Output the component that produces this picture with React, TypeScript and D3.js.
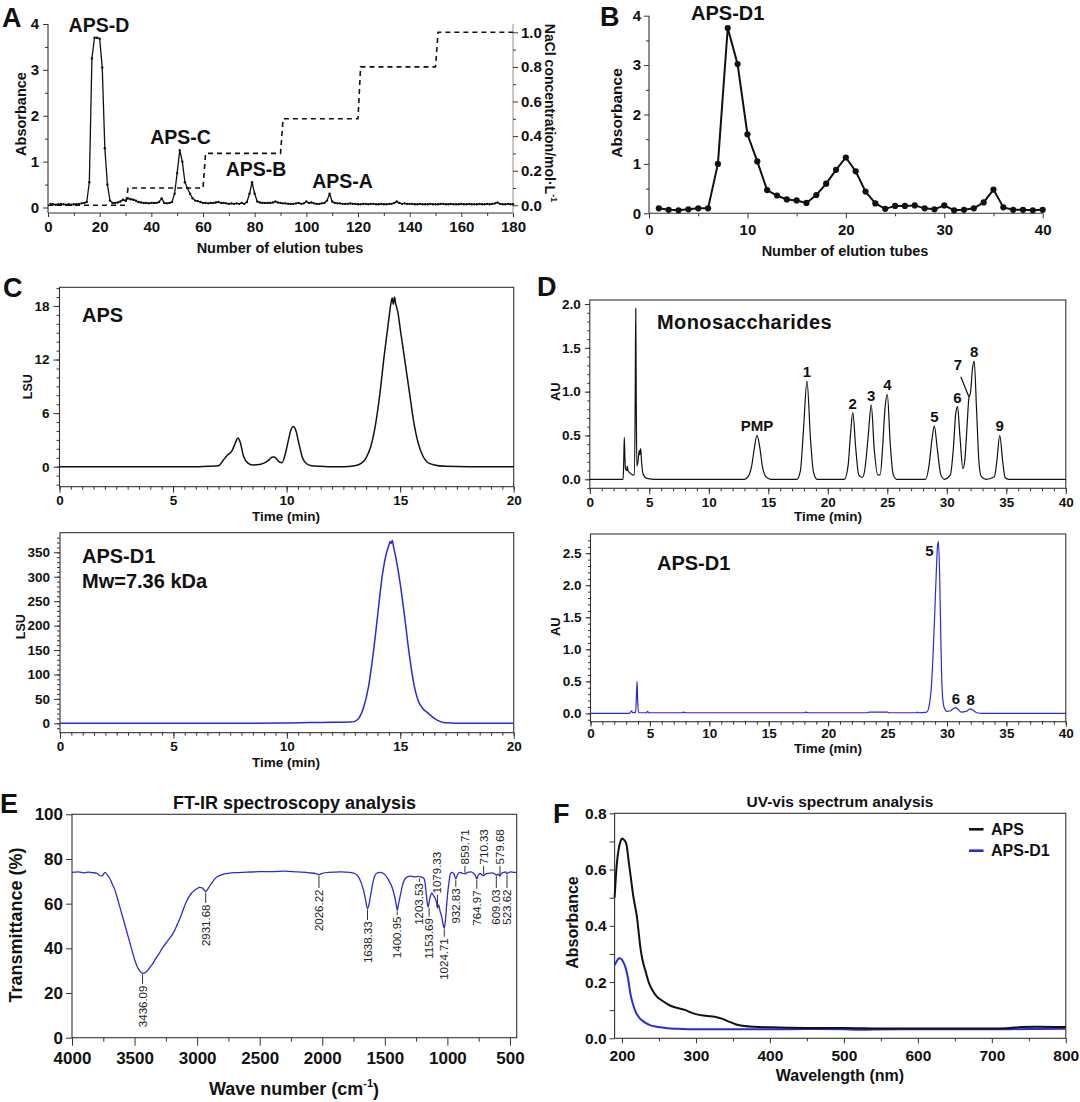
import React, { useEffect, useRef } from "react";
import * as d3 from "d3";

const FONT = "'Liberation Sans', Arial, Helvetica, sans-serif";
const BLUE = "#2b2bd6";
const INK = "#111111";
const FRAME = "#333333";

// ---------- A: anion-exchange elution, absorbance of tubes 1..180 ----------
const elutionAbsorbance = [
  0.08, 0.07, 0.06, 0.07, 0.08, 0.07, 0.06, 0.07, 0.06, 0.07,
  0.07, 0.08, 0.09, 0.1, 0.12, 0.55, 3.25, 3.7, 3.7, 3.68,
  3.05, 1.29, 0.5, 0.15, 0.1, 0.1, 0.11, 0.13, 0.17, 0.15,
  0.2, 0.18, 0.17, 0.15, 0.12, 0.11, 0.1, 0.1, 0.09, 0.1,
  0.1, 0.1, 0.12, 0.2, 0.1, 0.09, 0.1, 0.12, 0.3, 0.75,
  1.25, 1.0, 0.55, 0.42, 0.3, 0.2, 0.15, 0.14, 0.12, 0.1,
  0.1, 0.09, 0.1, 0.1, 0.11, 0.12, 0.1, 0.1, 0.09, 0.08,
  0.09, 0.08, 0.09, 0.08, 0.1, 0.08, 0.12, 0.3, 0.55, 0.3,
  0.13, 0.11, 0.1, 0.1, 0.1, 0.1, 0.11, 0.13, 0.11, 0.1,
  0.09, 0.09, 0.08, 0.08, 0.08, 0.09, 0.1, 0.08, 0.09, 0.13,
  0.1, 0.11, 0.09, 0.08, 0.08, 0.09, 0.1, 0.15, 0.3, 0.13,
  0.1, 0.09, 0.09, 0.08, 0.08, 0.08, 0.09, 0.08, 0.08, 0.07,
  0.07, 0.08, 0.08, 0.07, 0.08, 0.08, 0.07, 0.07, 0.08, 0.07,
  0.07, 0.08, 0.08, 0.1, 0.13, 0.1, 0.08, 0.09, 0.08, 0.08,
  0.08, 0.07, 0.07, 0.08, 0.07, 0.07, 0.07, 0.08, 0.07, 0.07,
  0.07, 0.08, 0.08, 0.07, 0.07, 0.08, 0.07, 0.07, 0.07, 0.08,
  0.07, 0.07, 0.08, 0.07, 0.07, 0.07, 0.08, 0.07, 0.07, 0.08,
  0.07, 0.08, 0.09, 0.11, 0.08, 0.07, 0.07, 0.08, 0.07, 0.07,
];
// NaCl step gradient
const gradientTubes = [0, 30, 31, 60, 61, 90, 91, 120, 121, 150, 151, 180];
const gradientNaCl = [0, 0, 0.1, 0.1, 0.3, 0.3, 0.5, 0.5, 0.8, 0.8, 1.0, 1.0];
const fractionNames = ["APS-D", "APS-C", "APS-B", "APS-A"];
const fractionPeakTubes = [19, 51, 79, 109];
const fractionLabelTubes = [19.7, 51.3, 80.5, 114];

// ---------- B: gel filtration of APS-D, tubes 1..40 ----------
const gelAbsorbance = [
  0.1, 0.07, 0.06, 0.08, 0.1, 0.1, 1.0, 3.75, 3.02, 1.6,
  1.05, 0.47, 0.36, 0.28, 0.26, 0.21, 0.37, 0.6, 0.88, 1.13,
  0.85, 0.44, 0.2, 0.09, 0.15, 0.15, 0.16, 0.1, 0.08, 0.16,
  0.06, 0.07, 0.1, 0.22, 0.48, 0.12, 0.07, 0.07, 0.06, 0.07,
];
const gelPeakName = "APS-D1";
const gelPeakTube = 8;

// ---------- C: HPGPC light-scattering traces ----------
const gpcTimeAPS = [0, 1, 2, 3, 4, 5, 6, 6.5, 7.0, 7.2, 7.4, 7.6, 7.75, 7.85, 7.95, 8.1, 8.3, 8.5, 8.8, 9.0, 9.2, 9.35, 9.45, 9.55, 9.7, 9.8, 9.95, 10.1, 10.2, 10.3, 10.4, 10.55, 10.7, 10.9, 11.1, 11.5, 12, 12.5, 13, 13.3, 13.5, 13.7, 13.9, 14.1, 14.3, 14.5, 14.6, 14.65, 14.7, 14.75, 14.8, 14.9, 15.0, 15.2, 15.4, 15.6, 15.8, 16.0, 16.2, 16.5, 17, 18, 19, 20];
const gpcLsuAPS = [0, 0, 0, 0, 0, 0, 0, 0.05, 0.1, 0.7, 1.3, 1.8, 2.7, 3.2, 2.8, 1.2, 0.4, 0.2, 0.25, 0.4, 0.7, 1.05, 1.1, 0.9, 0.5, 0.45, 1.5, 3.2, 4.2, 4.5, 4.1, 2.5, 1.0, 0.3, 0.1, 0.05, 0, 0, 0.1, 0.4, 1.0, 2.2, 4.5, 8, 12.5, 16.5, 18.4, 18.9, 18.2, 19.0, 18.3, 17.3, 15.5, 12, 8.5, 5, 2.6, 1.2, 0.5, 0.2, 0.05, 0, 0, 0];
const gpcTimeD1 = [0, 2, 4, 6, 8, 10, 11, 12, 12.8, 13.0, 13.2, 13.4, 13.6, 13.8, 14.0, 14.2, 14.4, 14.5, 14.55, 14.6, 14.65, 14.7, 14.8, 15.0, 15.2, 15.4, 15.6, 15.8, 16.0, 16.2, 16.5, 16.8, 17, 17.5, 18, 19, 20];
const gpcLsuD1 = [0, 0, 0, 0, 0, 0.5, 1.5, 2, 2.5, 4, 12, 35, 75, 140, 220, 300, 350, 365, 372, 368, 374, 362, 340, 285, 215, 140, 80, 45, 30, 22, 10, 3, 1, 0, 0, 0, 0];

// ---------- D: PMP-HPLC of monosaccharide standards and APS-D1 ----------
const stdTime = [0, 2.8, 2.85, 2.9, 2.95, 3.0, 3.1, 3.15, 3.2, 3.4, 3.6, 3.75, 3.82, 3.86, 3.9, 3.95, 4.05, 4.15, 4.2, 4.28, 4.35, 4.5, 4.8, 5.5, 13.0, 13.3, 13.6, 13.8, 14.05, 14.3, 14.5, 14.8, 15.2, 17.4, 17.7, 17.95, 18.25, 18.55, 18.8, 19.1, 21.4, 21.7, 21.9, 22.1, 22.35, 22.6, 22.9, 23.1, 23.4, 23.65, 23.9, 24.2, 24.4, 24.6, 24.8, 25.0, 25.25, 25.5, 25.8, 28.2, 28.5, 28.75, 28.95, 29.2, 29.5, 29.8, 30.3, 30.55, 30.75, 30.9, 31.1, 31.35, 31.5, 31.7, 31.85, 32.0, 32.15, 32.3, 32.5, 32.7, 32.9, 33.3, 34.0, 34.2, 34.45, 34.7, 34.9, 35.2, 40];
const stdAU = [0, 0, 0.2, 0.48, 0.25, 0.12, 0.1, 0.15, 0.1, 0.07, 0.05, 0.05, 1.0, 1.95, 1.0, 0.15, 0.2, 0.33, 0.28, 0.35, 0.2, 0.05, 0.01, 0, 0, 0.03, 0.15, 0.33, 0.5, 0.35, 0.15, 0.03, 0, 0, 0.1, 0.55, 1.12, 0.45, 0.08, 0, 0, 0.15, 0.5, 0.76, 0.35, 0.05, 0.02, 0.1, 0.5, 0.85, 0.35, 0.05, 0.05, 0.35, 0.8, 0.97, 0.4, 0.05, 0, 0, 0.15, 0.45, 0.61, 0.35, 0.05, 0, 0.05, 0.35, 0.75, 0.83, 0.5, 0.12, 0.2, 0.6, 0.92, 1.0, 1.25, 1.35, 0.8, 0.2, 0.03, 0, 0.03, 0.2, 0.5, 0.2, 0.02, 0, 0];
const stdPeakNames = ["PMP", "1", "2", "3", "4", "5", "6", "8", "9"];
const stdPeakTimes = [14.05, 18.25, 22.1, 23.65, 25.0, 28.95, 30.9, 32.3, 34.45];
const stdPeakAU = [0.5, 1.12, 0.76, 0.85, 0.97, 0.61, 0.83, 1.35, 0.5];
const shoulderName = "7";
const shoulderTime = 31.85;
const shoulderAU = 0.92;

const d1Time = [0, 3.3, 3.45, 3.55, 3.8, 3.87, 3.92, 3.97, 4.05, 4.7, 4.8, 4.9, 7.7, 7.8, 8.0, 18.0, 18.1, 18.3, 23.3, 23.5, 25, 25.1, 27.4, 27.5, 27.6, 28.3, 28.5, 28.7, 28.85, 29.0, 29.1, 29.2, 29.28, 29.38, 29.5, 29.6, 29.75, 30.0, 30.3, 30.5, 30.75, 30.95, 31.2, 31.6, 31.85, 32.0, 32.2, 32.5, 33, 40];
const d1AU = [0, 0, 0.04, 0.01, 0.02, 0.3, 0.5, 0.2, 0.01, 0.01, 0.03, 0.01, 0.01, 0.02, 0.01, 0.01, 0.02, 0.01, 0.01, 0.02, 0.02, 0.01, 0.01, 0.02, 0.01, 0.02, 0.12, 0.45, 1.0, 1.7, 2.2, 2.6, 2.68, 2.2, 1.0, 0.35, 0.1, 0.03, 0.04, 0.07, 0.09, 0.06, 0.02, 0.03, 0.06, 0.07, 0.05, 0.01, 0, 0];
const d1PeakNames = ["5", "6", "8"];
const d1PeakTimes = [29.28, 30.75, 32.0];
const d1PeakAU = [2.68, 0.09, 0.07];

// ---------- E: FT-IR spectrum of APS-D1 ----------
const irWavenumber = [4000, 3950, 3900, 3870, 3840, 3800, 3780, 3760, 3745, 3735, 3720, 3700, 3680, 3660, 3640, 3620, 3600, 3580, 3560, 3540, 3520, 3500, 3480, 3460, 3436.09, 3410, 3390, 3370, 3350, 3330, 3300, 3280, 3260, 3240, 3220, 3200, 3180, 3160, 3140, 3120, 3100, 3080, 3060, 3040, 3020, 3000, 2980, 2960, 2945, 2931.68, 2915, 2900, 2880, 2860, 2840, 2800, 2750, 2700, 2600, 2500, 2400, 2300, 2200, 2100, 2050, 2026.22, 2000, 1950, 1850, 1780, 1740, 1710, 1690, 1670, 1655, 1638.33, 1625, 1610, 1595, 1580, 1560, 1540, 1520, 1500, 1480, 1460, 1440, 1425, 1410, 1400.95, 1390, 1375, 1360, 1340, 1320, 1290, 1260, 1230, 1210, 1203.53, 1190, 1180, 1170, 1160, 1153.69, 1145, 1135, 1125, 1110, 1095, 1085, 1079.33, 1070, 1060, 1045, 1035, 1024.71, 1015, 1005, 995, 985, 975, 960, 945, 932.83, 920, 900, 880, 859.71, 840, 810, 790, 775, 764.97, 755, 740, 720, 710.33, 695, 670, 640, 620, 609.03, 595, 585, 579.68, 570, 550, 535, 523.62, 510, 490, 470, 446];
const irTransmittance = [74, 74.2, 73.8, 74.1, 73.9, 73.6, 72.6, 72.4, 73.5, 74, 73, 71.5, 69, 66.5, 63, 59, 55, 51, 47, 43, 39, 35, 32, 30, 28.8, 29.3, 30.5, 32, 33.5, 35.5, 38, 40, 41.5, 43, 44.5, 46, 48, 50.5, 53, 56, 59, 61.5, 63.5, 65, 66, 66.8, 67.3, 67.1, 66.2, 65.5, 66.5, 67.8, 69.5, 71, 72, 73, 73.6, 73.9, 74.1, 74.3, 74.3, 74.6, 74.2, 73.8, 73.4, 73, 73.6, 74, 74.2, 74, 73.5, 72, 69.5, 66, 62, 57.8, 60, 65, 69.5, 72.5, 73.8, 74, 73.8, 73, 71.5, 69.5, 67, 64, 60, 57, 60, 64, 68, 71, 72, 72.3, 72, 72.2, 72, 71.8, 71.5, 70, 65, 60, 58.5, 61, 63.5, 64.8, 63.5, 62, 60, 58, 59.5, 57, 54, 51, 49, 53, 60, 66, 70.5, 73.5, 74, 73, 71, 72.8, 74, 73.6, 73.3, 74, 74.2, 73.5, 72.5, 71, 72.5, 73.5, 72.8, 72.5, 73.2, 73.6, 73.8, 73.3, 72.8, 73.2, 72.6, 72.3, 73.5, 74, 74.2, 73.5, 74, 74.2, 74, 74];
const irBands = [3436.09, 2931.68, 2026.22, 1638.33, 1400.95, 1203.53, 1153.69, 1079.33, 1024.71, 932.83, 859.71, 764.97, 710.33, 609.03, 579.68, 523.62];
// which side of the trace each band label sits on, the transmittance where the label begins,
// and a small sideways nudge (px) for crowded labels
const irBandSide = ["below", "below", "below", "below", "below", "below", "below", "above", "below", "below", "above", "below", "above", "below", "above", "below"];
const irBandLabelAt = [24.0, 60.3, 67.0, 52.7, 54.9, 69.8, 54.2, 63.9, 45.2, 67.5, 76.9, 66.6, 76.9, 67.0, 76.9, 67.0];
const irBandNudge = [0, 0, 0, 0, 0, -2.5, 1, 0, 0, 0, 0, 0, 0, 0, 0, 0];

// ---------- F: UV-vis spectra ----------
const uvWavelengthAPS = [190, 193, 196, 198, 200, 203, 206, 209, 212, 215, 218, 220, 222, 225, 228, 232, 236, 241, 246, 253, 260, 267, 275, 286, 293, 300, 310, 320, 328, 335, 342, 350, 356, 365, 379, 400, 450, 500, 550, 600, 650, 700, 720, 740, 760, 800];
const uvAbsAPS = [0.5, 0.62, 0.68, 0.7, 0.71, 0.705, 0.69, 0.63, 0.57, 0.51, 0.465, 0.435, 0.39, 0.32, 0.275, 0.237, 0.2, 0.172, 0.152, 0.136, 0.124, 0.114, 0.108, 0.1, 0.092, 0.086, 0.081, 0.078, 0.075, 0.07, 0.062, 0.054, 0.048, 0.044, 0.041, 0.039, 0.037, 0.037, 0.035, 0.035, 0.035, 0.035, 0.036, 0.04, 0.041, 0.04];
const uvWavelengthD1 = [190, 193, 196, 199, 202, 205, 208, 212, 215, 218, 221, 224, 228, 233, 238, 245, 252, 261, 275, 300, 350, 400, 450, 500, 520, 540, 600, 650, 700, 750, 800];
const uvAbsD1 = [0.26, 0.275, 0.285, 0.282, 0.27, 0.25, 0.215, 0.15, 0.12, 0.097, 0.082, 0.071, 0.062, 0.053, 0.047, 0.042, 0.039, 0.036, 0.034, 0.032, 0.032, 0.032, 0.033, 0.032, 0.03, 0.031, 0.032, 0.032, 0.032, 0.033, 0.034];
const uvSeriesNames = ["APS", "APS-D1"];

type G = d3.Selection<SVGGElement, unknown, null, undefined>;

function range(a: number, b: number, step: number): number[] {
  return d3.range(a, b + step / 2, step).map((v) => +v.toFixed(6));
}

function label(g: G, x: number, y: number, text: string, size: number, opts: { anchor?: string; rotate?: number; weight?: string } = {}) {
  const t = g
    .append("text")
    .attr("transform", `translate(${x},${y})${opts.rotate ? ` rotate(${opts.rotate})` : ""}`)
    .attr("text-anchor", opts.anchor ?? "start")
    .attr("font-family", FONT)
    .attr("font-size", size)
    .attr("font-weight", opts.weight ?? "bold")
    .attr("fill", INK)
    .text(text);
  return t;
}

function axis(
  g: G,
  orient: "bottom" | "left" | "right",
  scale: d3.ScaleLinear<number, number>,
  at: [number, number],
  major: number[],
  minor: number[],
  o: { len: number; minorLen: number; pad: number; font: number; fmt: (d: number) => string }
) {
  const make = orient === "bottom" ? d3.axisBottom : orient === "left" ? d3.axisLeft : d3.axisRight;
  const tr = `translate(${at[0]},${at[1]})`;
  const mg = g.append("g").attr("transform", tr).call(make(scale).tickValues(minor).tickSize(o.minorLen).tickFormat(() => "") as any);
  mg.select(".domain").remove();
  mg.selectAll("line").attr("stroke", FRAME);
  const jg = g
    .append("g")
    .attr("transform", tr)
    .call(make(scale).tickValues(major).tickSize(o.len).tickPadding(o.pad).tickFormat(o.fmt as any) as any);
  jg.select(".domain").remove();
  jg.selectAll("line").attr("stroke", FRAME);
  jg.attr("font-family", FONT).attr("font-size", o.font);
  jg.selectAll("text").attr("font-family", FONT).attr("font-size", o.font).attr("font-weight", "bold").attr("fill", INK);
}

function frame(g: G, x0: number, y0: number, x1: number, y1: number) {
  g.append("rect").attr("x", x0).attr("y", y0).attr("width", x1 - x0).attr("height", y1 - y0).attr("fill", "none").attr("stroke", FRAME).attr("stroke-width", 1.1);
}

function hline(g: G, x0: number, x1: number, y: number, color = FRAME) {
  g.append("line").attr("x1", x0).attr("x2", x1).attr("y1", y).attr("y2", y).attr("stroke", color).attr("stroke-width", 1.1);
}
function vline(g: G, x: number, y0: number, y1: number, color = FRAME) {
  g.append("line").attr("x1", x).attr("x2", x).attr("y1", y0).attr("y2", y1).attr("stroke", color).attr("stroke-width", 1.1);
}

function trace(g: G, xs: number[], ys: number[], x: d3.ScaleLinear<number, number>, y: d3.ScaleLinear<number, number>, color: string, width: number, curve: d3.CurveFactory = d3.curveMonotoneX) {
  const pts = xs.map((v, i) => [v, ys[i]] as [number, number]);
  const line = d3
    .line<[number, number]>()
    .x((d) => x(d[0]))
    .y((d) => y(d[1]))
    .curve(curve);
  g.append("path").attr("d", line(pts)).attr("fill", "none").attr("stroke", color).attr("stroke-width", width).attr("stroke-linejoin", "round");
}

function draw(svgEl: SVGSVGElement) {
  const svg = d3.select(svgEl);
  svg.selectAll("*").remove();
  svg.append("rect").attr("width", 1080).attr("height", 1102).attr("fill", "#fff");
  const root = svg.append("g") as unknown as G;

  // ===== Panel A =====
  {
    const g = root.append("g") as G;
    const x = d3.scaleLinear().domain([0, 180]).range([48, 513]);
    const y = d3.scaleLinear().domain([0, 4]).range([207.5, 24]);
    const yNa = d3.scaleLinear().domain([0, 1]).range([205.3, 32.3]);
    const axisY = 213;
    vline(g, 48, 24, axisY);
    hline(g, 48, 513, axisY);
    vline(g, 513, 24, axisY, "#9a9a9a");
    axis(g, "left", y, [48, 0], range(0, 4, 1), range(0.5, 3.5, 1), { len: 5, minorLen: 3, pad: 4, font: 15, fmt: (d) => String(d) });
    axis(g, "bottom", x, [0, axisY], range(0, 180, 20), range(10, 170, 20), { len: 4, minorLen: 3, pad: 4, font: 15, fmt: (d) => String(d) });
    axis(g, "right", yNa, [513, 0], range(0, 1, 0.2), range(0.1, 0.9, 0.2), { len: 5, minorLen: 3, pad: 3, font: 15, fmt: (d) => d3.format(".1f")(d) });

    // NaCl step gradient
    const step = gradientTubes.map((t, i) => [t, gradientNaCl[i]] as [number, number]);
    g.append("path")
      .attr("d", d3.line<[number, number]>().x((d) => x(d[0])).y((d) => yNa(d[1]))(step))
      .attr("fill", "none")
      .attr("stroke", "#111")
      .attr("stroke-width", 1.6)
      .attr("stroke-dasharray", "5,4");

    // absorbance profile
    const tubes = elutionAbsorbance.map((_, i) => i + 1);
    trace(g, tubes, elutionAbsorbance, x, y, "#111", 1.3, d3.curveLinear);
    g.selectAll(null)
      .data(elutionAbsorbance)
      .join("circle")
      .attr("cx", (_, i) => x(i + 1))
      .attr("cy", (d) => y(d))
      .attr("r", 1.2)
      .attr("fill", "#111");

    fractionNames.forEach((n, i) => {
      const peak = elutionAbsorbance[fractionPeakTubes[i] - 1];
      label(g, x(fractionLabelTubes[i]), y(peak) - 6, n, 19.5, { anchor: "middle" });
    });

    label(g, 2, 27, "A", 27);
    label(g, 21, 114, "Absorbance", 14.5, { anchor: "middle", rotate: -90 }).attr("dy", "0.35em");
    label(g, 280, 253, "Number of elution tubes", 14.5, { anchor: "middle" });
    const na = label(g, 550, 113, "NaCl concentration/mol·L", 14, { anchor: "middle", rotate: 90 }).attr("dy", "0.35em");
    na.append("tspan").attr("font-size", 9).attr("dy", "-0.6em").text("-1");
  }

  // ===== Panel B =====
  {
    const g = root.append("g") as G;
    const x = d3.scaleLinear().domain([0, 40]).range([649, 1042.7]);
    const y = d3.scaleLinear().domain([0, 4]).range([213.3, 15.7]);
    vline(g, 649, 15.7, 213.3);
    hline(g, 649, 1042.7, 213.3);
    axis(g, "left", y, [649, 0], range(0, 4, 1), range(0.5, 3.5, 1), { len: 5, minorLen: 3, pad: 3, font: 15, fmt: (d) => String(d) });
    axis(g, "bottom", x, [0, 213.3], range(0, 40, 10), range(5, 35, 10), { len: 5, minorLen: 3, pad: 6, font: 15, fmt: (d) => String(d) });
    const tubes = gelAbsorbance.map((_, i) => i + 1);
    trace(g, tubes, gelAbsorbance, x, y, "#111", 2, d3.curveLinear);
    g.selectAll(null)
      .data(gelAbsorbance)
      .join("circle")
      .attr("cx", (_, i) => x(i + 1))
      .attr("cy", (d) => y(d))
      .attr("r", 3.1)
      .attr("fill", "#111");
    label(g, x(gelPeakTube), y(gelAbsorbance[gelPeakTube - 1]) - 8, gelPeakName, 20, { anchor: "middle" });
    label(g, 600, 26, "B", 27);
    label(g, 617, 113, "Absorbance", 15.5, { anchor: "middle", rotate: -90 }).attr("dy", "0.35em");
    label(g, 845, 256, "Number of elution tubes", 14.5, { anchor: "middle" });
  }

  // ===== Panel C (top): APS =====
  {
    const g = root.append("g") as G;
    const [x0, x1, y0, y1] = [59.5, 513.7, 287.3, 486.7];
    const x = d3.scaleLinear().domain([0, 20]).range([x0, x1]);
    const y = d3.scaleLinear().domain([-2.24, 20.09]).range([y1, y0]);
    frame(g, x0, y0, x1, y1);
    axis(g, "left", y, [x0, 0], [0, 6, 12, 18], range(-2, 20, 1), { len: 6, minorLen: 3, pad: 4, font: 13.5, fmt: (d) => String(d) });
    axis(g, "bottom", x, [0, y1], range(0, 20, 5), range(0, 20, 0.5), { len: 6, minorLen: 3, pad: 3, font: 13.5, fmt: (d) => String(d) });
    trace(g, gpcTimeAPS, gpcLsuAPS, x, y, "#111", 1.5);
    label(g, 3, 297, "C", 27);
    label(g, 82, 322, "APS", 20);
    label(g, 27.5, 386.7, "LSU", 12.5, { anchor: "middle", rotate: -90 }).attr("dy", "0.35em");
    label(g, 286, 521, "Time (min)", 13.5, { anchor: "middle" });
  }

  // ===== Panel C (bottom): APS-D1 =====
  {
    const g = root.append("g") as G;
    const [x0, x1, y0, y1] = [60, 513.7, 532.7, 732.7];
    const x = d3.scaleLinear().domain([0, 20]).range([x0, x1]);
    const y = d3.scaleLinear().domain([-19.2, 390.1]).range([y1, y0]);
    frame(g, x0, y0, x1, y1);
    axis(g, "left", y, [x0, 0], range(0, 350, 50), range(-10, 380, 10), { len: 6, minorLen: 3, pad: 4, font: 13.5, fmt: (d) => String(d) });
    axis(g, "bottom", x, [0, y1], range(0, 20, 5), range(0, 20, 0.5), { len: 6, minorLen: 3, pad: 3, font: 13.5, fmt: (d) => String(d) });
    trace(g, gpcTimeD1, gpcLsuD1, x, y, BLUE, 1.5);
    label(g, 82, 563.3, "APS-D1", 20);
    label(g, 82, 588.3, "Mw=7.36 kDa", 20);
    label(g, 20.6, 626.7, "LSU", 12.5, { anchor: "middle", rotate: -90 }).attr("dy", "0.35em");
    label(g, 286, 767, "Time (min)", 13.5, { anchor: "middle" });
  }

  // ===== Panel D (top): monosaccharide standards =====
  {
    const g = root.append("g") as G;
    const [x0, x1, y0, y1] = [589.8, 1065.8, 300, 488.3];
    const x = d3.scaleLinear().domain([0, 40]).range([x0, x1]);
    const y = d3.scaleLinear().domain([-0.103, 2.046]).range([y1, y0]);
    frame(g, x0, y0, x1, y1);
    axis(g, "left", y, [x0, 0], range(0, 2, 0.5), range(-0.1, 2.0, 0.1), { len: 5, minorLen: 2.5, pad: 4, font: 13.5, fmt: (d) => d3.format(".1f")(d) });
    axis(g, "bottom", x, [0, y1], range(0, 40, 5), range(0, 40, 1), { len: 6, minorLen: 3, pad: 3, font: 13.5, fmt: (d) => String(d) });
    trace(g, stdTime, stdAU, x, y, "#111", 1.2);
    stdPeakNames.forEach((n, i) => {
      label(g, x(stdPeakTimes[i]), y(stdPeakAU[i]) - 4, n, 15, { anchor: "middle" });
    });
    // shoulder peak 7 with a pointer line
    const sx = x(shoulderTime);
    const sy = y(shoulderAU);
    g.append("line").attr("x1", sx - 8).attr("y1", sy - 22).attr("x2", sx).attr("y2", sy - 2).attr("stroke", "#111").attr("stroke-width", 1.2);
    label(g, sx - 11, sy - 29, shoulderName, 15, { anchor: "middle" });
    label(g, 657, 329.3, "Monosaccharides", 20).attr("letter-spacing", 0.4);
    label(g, 537, 296, "D", 27);
    label(g, 555.5, 391.7, "AU", 13, { anchor: "middle", rotate: -90 }).attr("dy", "0.35em");
    label(g, 828, 521, "Time (min)", 13.5, { anchor: "middle" });
  }

  // ===== Panel D (bottom): APS-D1 =====
  {
    const g = root.append("g") as G;
    const [x0, x1, y0, y1] = [590.5, 1065.8, 534, 721.7];
    const x = d3.scaleLinear().domain([0, 40]).range([x0, x1]);
    const y = d3.scaleLinear().domain([-0.13, 2.8]).range([y1, y0]);
    frame(g, x0, y0, x1, y1);
    axis(g, "left", y, [x0, 0], range(0, 2.5, 0.5), range(-0.1, 2.7, 0.1), { len: 5, minorLen: 2.5, pad: 4, font: 13.5, fmt: (d) => d3.format(".1f")(d) });
    axis(g, "bottom", x, [0, y1], range(0, 40, 5), range(0, 40, 1), { len: 5, minorLen: 3, pad: 2, font: 13.5, fmt: (d) => String(d) });
    trace(g, d1Time, d1AU, x, y, BLUE, 1.2);
    d1PeakNames.forEach((n, i) => {
      const first = i === 0;
      label(g, x(d1PeakTimes[i]) + (first ? -9 : 0), y(d1PeakAU[i]) + (first ? 14 : -4), n, 15, { anchor: "middle" });
    });
    label(g, 657, 570, "APS-D1", 20);
    label(g, 555.5, 626.7, "AU", 13, { anchor: "middle", rotate: -90 }).attr("dy", "0.35em");
    label(g, 828, 753, "Time (min)", 13.5, { anchor: "middle" });
  }

  // ===== Panel E: FT-IR =====
  {
    const g = root.append("g") as G;
    const [x0, x1, y0, y1] = [72, 516.7, 814.3, 1037.7];
    const x = d3.scaleLinear().domain([4000, 446]).range([x0, x1]);
    const y = d3.scaleLinear().domain([0, 100]).range([y1, y0]);
    frame(g, x0, y0, x1, y1);
    axis(g, "left", y, [x0, 0], range(0, 100, 20), [], { len: 6, minorLen: 3, pad: 3, font: 17, fmt: (d) => String(d) });
    axis(g, "bottom", x, [0, y1], range(500, 4000, 500), range(750, 3750, 500), { len: 8, minorLen: 4, pad: 6, font: 17, fmt: (d) => String(d) });
    trace(g, irWavenumber, irTransmittance, x, y, BLUE, 1.3);
    irBands.forEach((wn, i) => {
      const t = irTransmittance[irWavenumber.indexOf(wn)];
      const px = x(wn) + irBandNudge[i];
      const below = irBandSide[i] === "below";
      const yc = y(t) + (below ? 1 : -1);
      const yl = y(irBandLabelAt[i]);
      g.append("line").attr("x1", px).attr("x2", px).attr("y1", yc).attr("y2", yl).attr("stroke", "#333").attr("stroke-width", 1);
      g.append("text")
        .attr("transform", `translate(${px},${yl + (below ? 1.5 : -1.5)}) rotate(-90)`)
        .attr("text-anchor", below ? "end" : "start")
        .attr("dy", "0.35em")
        .attr("font-family", FONT)
        .attr("font-size", 11.5)
        .attr("fill", "#222")
        .text(wn.toFixed(2));
    });
    label(g, 0, 813, "E", 27);
    label(g, 294.5, 809.3, "FT-IR spectroscopy analysis", 18, { anchor: "middle" });
    label(g, 15.5, 925, "Transmittance (%)", 18, { anchor: "middle", rotate: -90 }).attr("dy", "0.35em");
    const wl = label(g, 294, 1095, "Wave number (cm", 18, { anchor: "middle" });
    wl.append("tspan").attr("font-size", 11).attr("dy", "-0.75em").text("-1");
    wl.append("tspan").attr("dy", "0.5em").text(")");
  }

  // ===== Panel F: UV-vis =====
  {
    const g = root.append("g") as G;
    const [x0, x1, y0, y1] = [614.6, 1065.8, 813.3, 1038.3];
    const x = d3.scaleLinear().domain([190, 800]).range([x0, x1]);
    const y = d3.scaleLinear().domain([0, 0.8]).range([y1, y0]);
    frame(g, x0, y0, x1, y1);
    axis(g, "left", y, [x0, 0], range(0, 0.8, 0.2), range(0.1, 0.7, 0.2), { len: 5, minorLen: 5, pad: 3, font: 15.5, fmt: (d) => d3.format(".1f")(d) });
    axis(g, "bottom", x, [0, y1], range(200, 800, 100), range(250, 750, 100), { len: 5, minorLen: 3, pad: 7, font: 15.5, fmt: (d) => String(d) });
    trace(g, uvWavelengthD1, uvAbsD1, x, y, BLUE, 2);
    trace(g, uvWavelengthAPS, uvAbsAPS, x, y, "#111", 2);
    const legendColors = ["#111", BLUE];
    uvSeriesNames.forEach((n, i) => {
      const ly = 829.3 + i * 21.4;
      g.append("line").attr("x1", 969).attr("x2", 983.5).attr("y1", ly).attr("y2", ly).attr("stroke", legendColors[i]).attr("stroke-width", 2.6);
      label(g, 991, ly + 5.5, n, 16);
    });
    label(g, 553, 823, "F", 27);
    label(g, 840, 806.7, "UV-vis spectrum analysis", 15.5, { anchor: "middle" });
    label(g, 572.6, 922.5, "Absorbance", 16, { anchor: "middle", rotate: -90 }).attr("dy", "0.35em");
    label(g, 840, 1081, "Wavelength (nm)", 16, { anchor: "middle" });
  }
}

export default function App() {
  const ref = useRef<SVGSVGElement>(null);
  useEffect(() => {
    document.body.style.margin = "0";
    if (ref.current) draw(ref.current);
  }, []);
  return <svg ref={ref} width={1080} height={1102} style={{ display: "block" }} />;
}
